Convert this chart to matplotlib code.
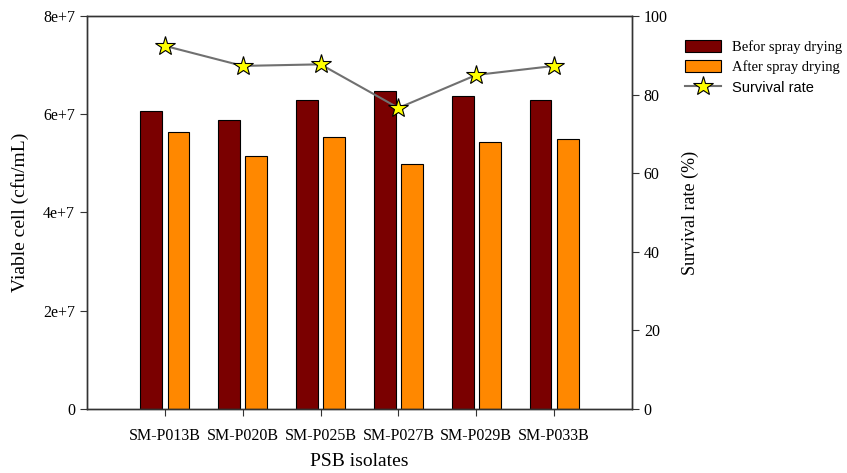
import numpy as np
import matplotlib.pyplot as plt

# values
isolates = ['SM-P013B', 'SM-P020B', 'SM-P025B', 'SM-P027B', 'SM-P029B', 'SM-P033B']
before = [6.07e7, 5.88e7, 6.29e7, 6.48e7, 6.37e7, 6.28e7]
after = [5.64e7, 5.15e7, 5.54e7, 4.99e7, 5.44e7, 5.50e7]
survival = [92.4, 87.3, 87.7, 76.6, 85.0, 87.3]
left_ticks = [0, 2e7, 4e7, 6e7, 8e7]
left_labels = ['0', '2e+7', '4e+7', '6e+7', '8e+7']
right_ticks = [0, 20, 40, 60, 80, 100]


def main():
    plt.rcParams['font.family'] = ['Liberation Serif', 'DejaVu Serif']
    fig = plt.figure(figsize=(8.47, 4.73), dpi=100)
    ax = fig.add_axes([87 / 847, 64 / 473, 545 / 847, 393 / 473])
    x = np.arange(len(isolates))
    w = 0.28

    b1 = ax.bar(x - 0.175, before, w, color='#7a0000', edgecolor='black',
                linewidth=0.8, label='Befor spray drying', zorder=2)
    b2 = ax.bar(x + 0.175, after, w, color='#ff8800', edgecolor='black',
                linewidth=0.8, label='After spray drying', zorder=2)
    ax.set_xlim(-1, 6)
    ax.set_ylim(0, 8e7)
    ax.set_yticks(left_ticks, left_labels)
    ax.set_xticks(x, isolates)
    ax.tick_params(direction='out', length=5, width=0.8, labelsize=11.5,
                   top=False, color='#333333')
    ax.tick_params(axis='x', pad=9)
    ax.set_xlabel('PSB isolates', fontsize=14, labelpad=6)
    ax.set_ylabel('Viable cell (cfu/mL)', fontsize=14, labelpad=10)

    ax2 = ax.twinx()
    ln, = ax2.plot(x, survival, color='#707070', linewidth=1.5, marker='*',
                   markersize=15, markerfacecolor='#ffff00',
                   markeredgecolor='black', markeredgewidth=0.8,
                   label='Survival rate', zorder=3)
    ax2.set_ylim(0, 100)
    ax2.set_yticks(right_ticks)
    ax2.tick_params(direction='out', length=5, width=0.8, labelsize=11.5,
                    color='#333333')
    ax2.set_ylabel('Survival rate (%)', fontsize=13, labelpad=10)

    for a in (ax, ax2):
        for s in a.spines.values():
            s.set_linewidth(1.0)
            s.set_color('#333333')

    leg = fig.legend([b1, b2, ln],
                     ['Befor spray drying', 'After spray drying', 'Survival rate'],
                     loc='upper left', bbox_to_anchor=(685 / 847, 1 - 40 / 473),
                     frameon=False, fontsize=10.5, handlelength=2.5,
                     handleheight=0.85, labelspacing=0.45, handletextpad=0.7,
                     borderaxespad=0, borderpad=0)
    leg.get_texts()[2].set_family(['Liberation Sans', 'DejaVu Sans'])

    fig.savefig('out.png', dpi=100)


if __name__ == '__main__':
    main()
